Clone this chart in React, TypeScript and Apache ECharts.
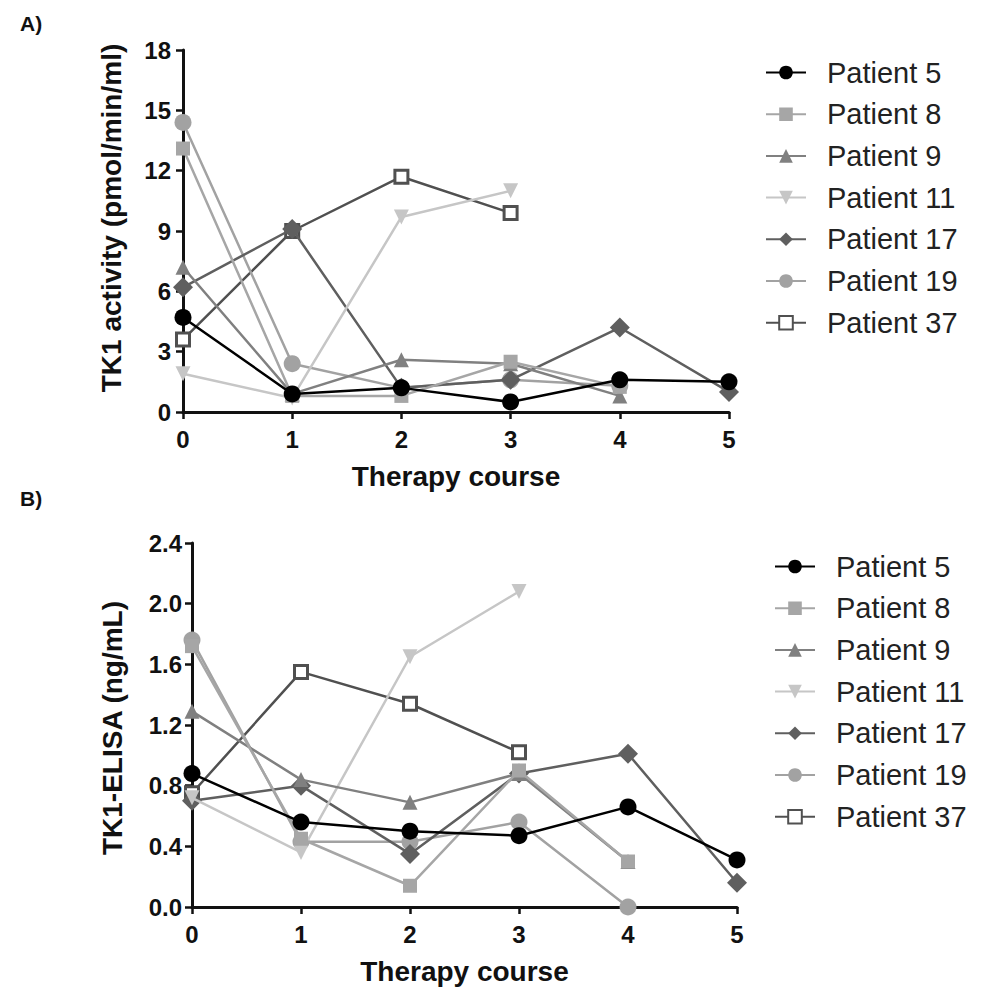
import React, { useEffect, useRef } from "react";
import * as echarts from "echarts";

const courses = [0, 1, 2, 3, 4, 5];
const patients = ["Patient 5", "Patient 8", "Patient 9", "Patient 11", "Patient 17", "Patient 19", "Patient 37"];

// Panel A: TK1 activity (pmol/min/ml)
const activityP5 = [4.7, 0.9, 1.2, 0.5, 1.6, 1.5];
const activityP8 = [13.1, 0.8, 0.8, 2.5, 1.25];
const activityP9 = [7.2, 0.9, 2.6, 2.4, 0.8];
const activityP11 = [1.9, 0.7, 9.7, 11.0];
const activityP17 = [6.2, 9.1, 1.2, 1.6, 4.2, 1.0];
const activityP19 = [14.4, 2.4, 1.2, 1.6, 1.3];
const activityP37 = [3.6, 9.0, 11.7, 9.9];

// Panel B: TK1-ELISA (ng/mL)
const elisaP5 = [0.88, 0.56, 0.5, 0.47, 0.66, 0.31];
const elisaP8 = [1.72, 0.45, 0.14, 0.9, 0.3];
const elisaP9 = [1.29, 0.84, 0.69, 0.88, 0.3];
const elisaP11 = [0.72, 0.36, 1.65, 2.08];
const elisaP17 = [0.7, 0.8, 0.35, 0.88, 1.01, 0.16];
const elisaP19 = [1.76, 0.43, 0.43, 0.56, 0.0];
const elisaP37 = [0.75, 1.55, 1.34, 1.02];

const activityTicks = [0, 3, 6, 9, 12, 15, 18];
const elisaTicks = ["0.0", "0.4", "0.8", "1.2", "1.6", "2.0", "2.4"];

const colors = ["#000000", "#a6a6a6", "#808080", "#c6c6c6", "#5f5f5f", "#a2a2a2", "#505050"];
const symbols = ["circle", "rect", "triangle", "triangle", "diamond", "circle", "rect"];
const rotations = [0, 0, 0, 180, 0, 0, 0];
const sizes = [17, 14, 15, 15, 20, 17, 13];

const activitySets = [activityP5, activityP8, activityP9, activityP11, activityP17, activityP19, activityP37];
const elisaSets = [elisaP5, elisaP8, elisaP9, elisaP11, elisaP17, elisaP19, elisaP37];

const FONT = "Liberation Sans";

function makeSeries(sets: number[][], axisIndex: number) {
  return sets.map((vals, i) => {
    const hollow = i === 6;
    return {
      name: patients[i],
      type: "line",
      xAxisIndex: axisIndex,
      yAxisIndex: axisIndex,
      data: vals.map((v, k) => [courses[k], v]),
      symbol: symbols[i],
      symbolRotate: rotations[i],
      symbolSize: sizes[i],
      showAllSymbol: true,
      lineStyle: { color: colors[i], width: 2.5 },
      itemStyle: hollow
        ? { color: "#ffffff", borderColor: colors[i], borderWidth: 3 }
        : { color: colors[i], borderWidth: 0 },
      z: 10 - i,
    };
  });
}

export default function App() {
  const ref = useRef<HTMLDivElement>(null);
  useEffect(() => {
    if (!ref.current) return;
    const chart = echarts.init(ref.current, undefined, { renderer: "svg" });
    const axisLine = { show: true, lineStyle: { color: "#111", width: 3 } };
    const axisTick = { show: true, length: 7, lineStyle: { color: "#111", width: 2.5 } };
    const axisLabel = { color: "#111", fontWeight: "bold" as const, fontSize: 24, fontFamily: FONT };
    const titleStyle = { fontSize: 28, fontWeight: "bold" as const, color: "#111", fontFamily: FONT };
    const legendBase = {
      orient: "vertical" as const,
      padding: 0,
      itemWidth: 40,
      itemHeight: 17,
      itemGap: 12.7,
      textStyle: { fontSize: 29, fontFamily: FONT, color: "#222", lineHeight: 29, padding: [0, 0, 0, 16] },
      data: patients,
      selectedMode: false,
    };
    const yTitle = (text: string, x: number, y: number) => ({
      type: "text",
      x,
      y,
      rotation: Math.PI / 2,
      style: {
        text,
        font: `bold 28px ${FONT}`,
        fill: "#111",
        textAlign: "center",
        textVerticalAlign: "middle",
      },
    });
    chart.setOption({
      animation: false,
      backgroundColor: "#ffffff",
      textStyle: { fontFamily: FONT },
      graphic: [
        { type: "text", left: 20, top: 13, style: { text: "A)", font: `bold 21px ${FONT}`, fill: "#111" } },
        { type: "text", left: 20, top: 488, style: { text: "B)", font: `bold 21px ${FONT}`, fill: "#111" } },
        yTitle("TK1 activity (pmol/min/ml)", 111, 218),
        yTitle("TK1-ELISA (ng/mL)", 112, 728),
      ],
      legend: [
        { ...legendBase, left: 765, top: 58 },
        { ...legendBase, left: 774, top: 552 },
      ],
      grid: [
        { left: 183, right: 253, top: 50, bottom: 577 },
        { left: 192, right: 245, top: 543, bottom: 82 },
      ],
      xAxis: [0, 1].map((g) => ({
        type: "value",
        gridIndex: g,
        min: 0,
        max: 5,
        interval: 1,
        splitLine: { show: false },
        axisLine,
        axisTick,
        axisLabel: { ...axisLabel, margin: 15 },
        name: "Therapy course",
        nameLocation: "middle",
        nameGap: 50,
        nameTextStyle: titleStyle,
      })),
      yAxis: [
        {
          type: "value",
          gridIndex: 0,
          min: 0,
          max: 18,
          interval: 3,
          splitLine: { show: false },
          axisLine,
          axisTick,
          axisLabel: { ...axisLabel, margin: 12, formatter: (v: number) => String(activityTicks[Math.round(v / 3)]) },
        },
        {
          type: "value",
          gridIndex: 1,
          min: 0,
          max: 2.4,
          interval: 0.4,
          splitLine: { show: false },
          axisLine,
          axisTick,
          axisLabel: { ...axisLabel, margin: 10, formatter: (v: number) => elisaTicks[Math.round(v / 0.4)] },
        },
      ],
      series: [...makeSeries(activitySets, 0), ...makeSeries(elisaSets, 1)],
    });
    return () => chart.dispose();
  }, []);
  return (
    <div
      ref={ref}
      style={{ position: "absolute", left: 0, top: 0, width: 982, height: 989, background: "#fff" }}
    />
  );
}
